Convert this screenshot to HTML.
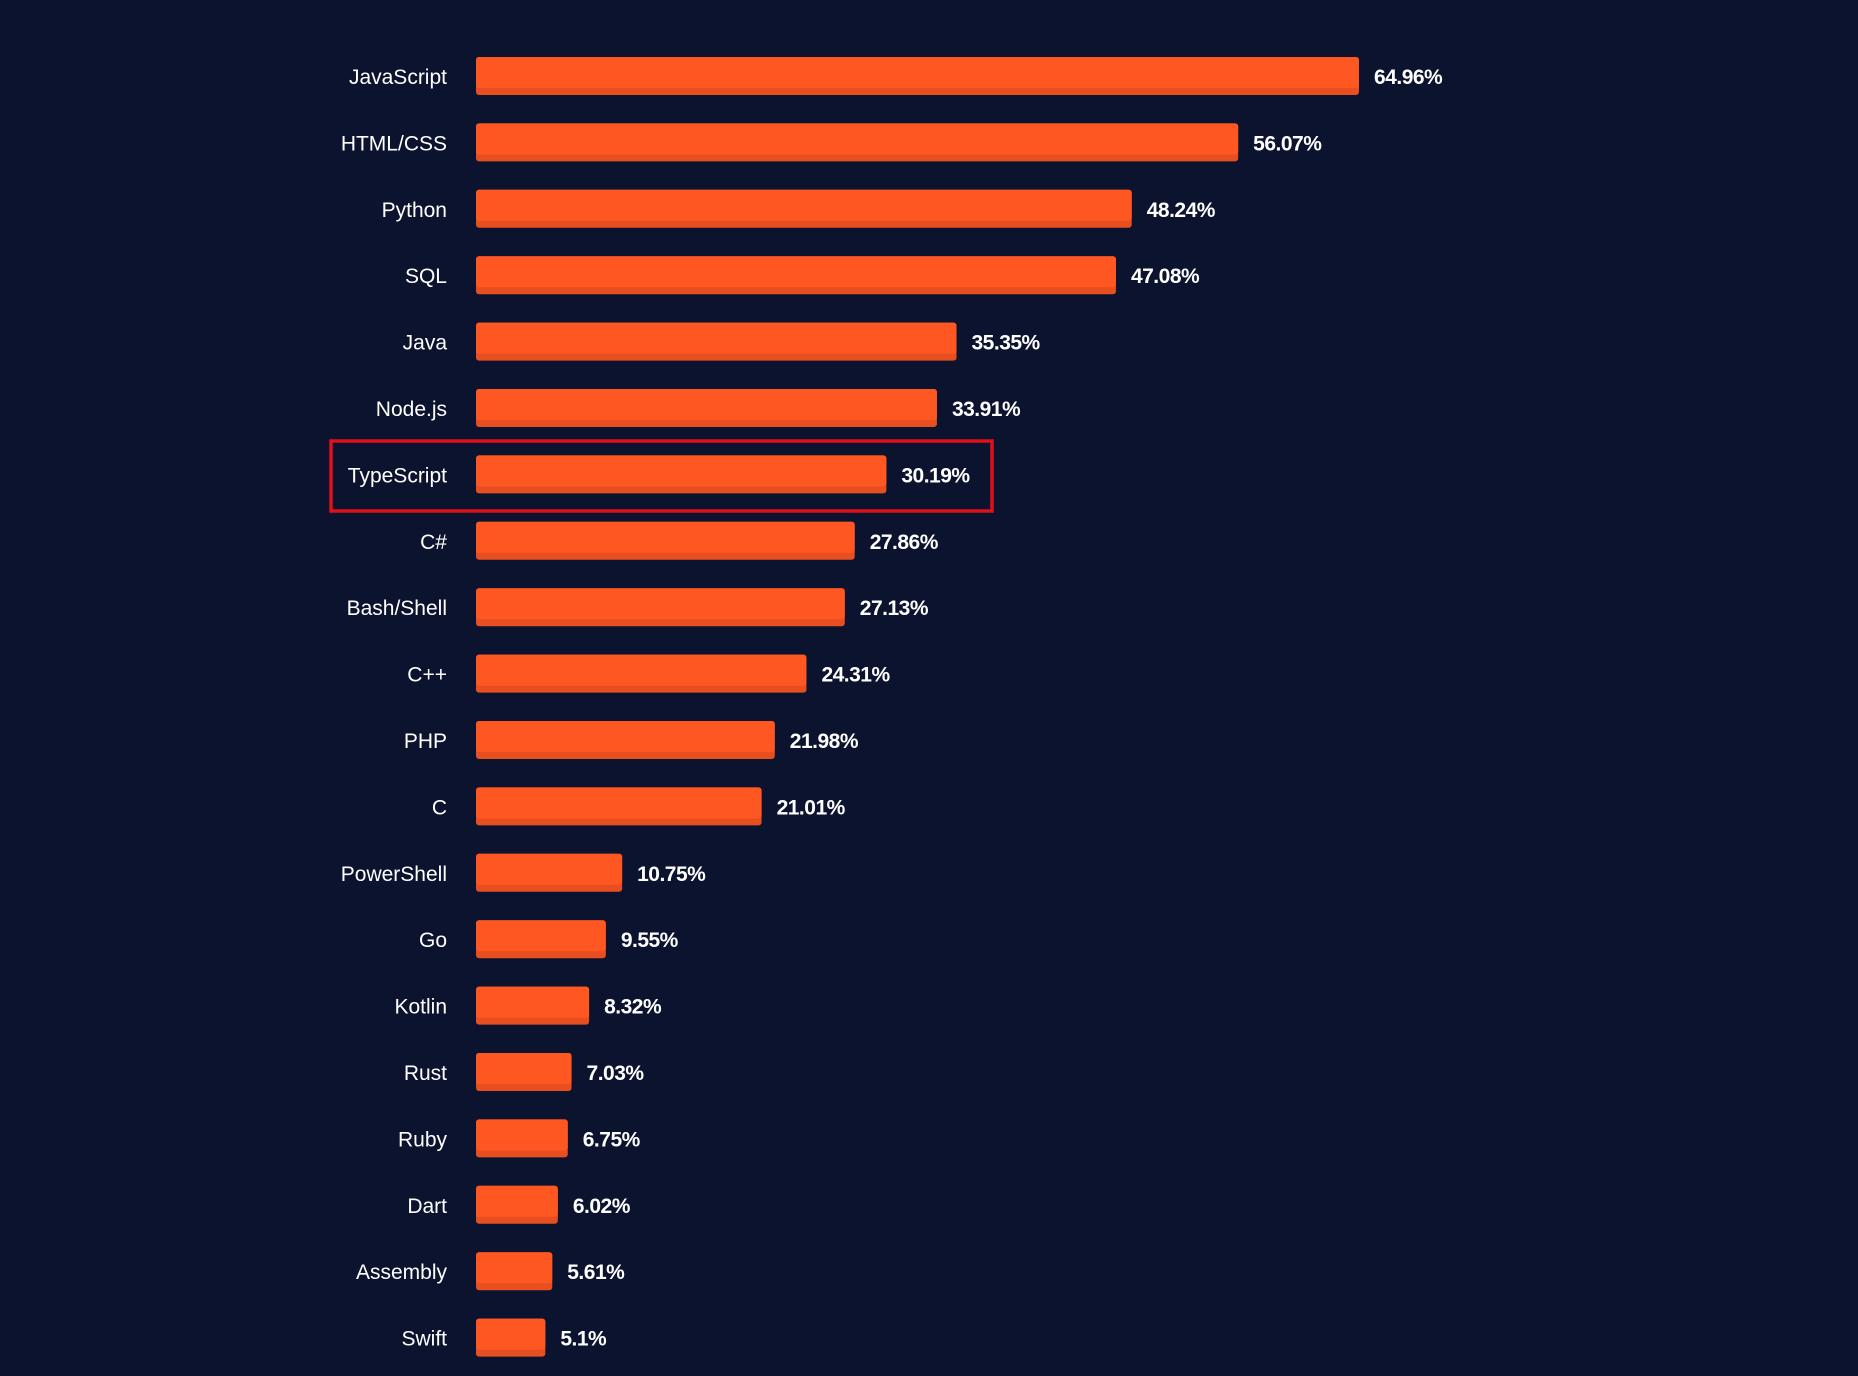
<!DOCTYPE html>
<html><head><meta charset="utf-8"><style>
html,body{margin:0;padding:0;background:#0c132f;}
svg{display:block}
</style></head><body>
<svg id="chart" width="1858" height="1376" xmlns="http://www.w3.org/2000/svg">
<rect width="1858" height="1376" fill="#0c132f"/>
<g id="bars"></g>
<rect x="331" y="441" width="661" height="70" fill="none" stroke="#e0101a" stroke-width="3.5"/>
</svg>
<script>
const categories = ["JavaScript","HTML/CSS","Python","SQL","Java","Node.js","TypeScript","C#","Bash/Shell","C++","PHP","C","PowerShell","Go","Kotlin","Rust","Ruby","Dart","Assembly","Swift"];
const values = [64.96,56.07,48.24,47.08,35.35,33.91,30.19,27.86,27.13,24.31,21.98,21.01,10.75,9.55,8.32,7.03,6.75,6.02,5.61,5.1];
const valueLabels = ["64.96%","56.07%","48.24%","47.08%","35.35%","33.91%","30.19%","27.86%","27.13%","24.31%","21.98%","21.01%","10.75%","9.55%","8.32%","7.03%","6.75%","6.02%","5.61%","5.1%"];

const x0 = 476, pxPer = 883/64.96;
const xScale = v => x0 + v*pxPer;
const yCenter = i => 76 + i*66.4;
const barH = 38;
const NS = "http://www.w3.org/2000/svg";
const g = document.getElementById('bars');
categories.forEach((c,i)=>{
  const yc = yCenter(i);
  const w = xScale(values[i]) - x0;
  const grp = document.createElementNS(NS,'g');
  
  
  const lab = document.createElementNS(NS,'text');
  
  
  lab.setAttribute('x',447); lab.setAttribute('y',yc+8);
  lab.setAttribute('text-anchor','end');
  lab.setAttribute('fill','#ffffff');
  lab.setAttribute('font-family','"Liberation Sans", sans-serif');
  lab.setAttribute('font-size','21');
  lab.textContent = c;
  grp.appendChild(lab);
  const dark = document.createElementNS(NS,'rect');
  
  
  dark.setAttribute('x',x0); dark.setAttribute('y',yc-barH/2);
  dark.setAttribute('width',w); dark.setAttribute('height',barH);
  dark.setAttribute('rx',3); dark.setAttribute('fill','#e84f20');
  grp.appendChild(dark);
  const bar = document.createElementNS(NS,'rect');
  
  
  bar.setAttribute('x',x0); bar.setAttribute('y',yc-barH/2);
  bar.setAttribute('width',w); bar.setAttribute('height',barH-7);
  bar.setAttribute('rx',3); bar.setAttribute('fill','#ff5722');
  grp.appendChild(bar);
  const val = document.createElementNS(NS,'text');
  
  
  val.setAttribute('x',x0+w+15); val.setAttribute('y',yc+8);
  val.setAttribute('fill','#ffffff');
  val.setAttribute('font-weight','bold');
  val.setAttribute('font-family','"Liberation Sans", sans-serif');
  val.setAttribute('font-size','21');
  val.setAttribute('letter-spacing','-0.5');
  val.textContent = valueLabels[i];
  grp.appendChild(val);
  g.appendChild(grp);
});
</script>
</body></html>
